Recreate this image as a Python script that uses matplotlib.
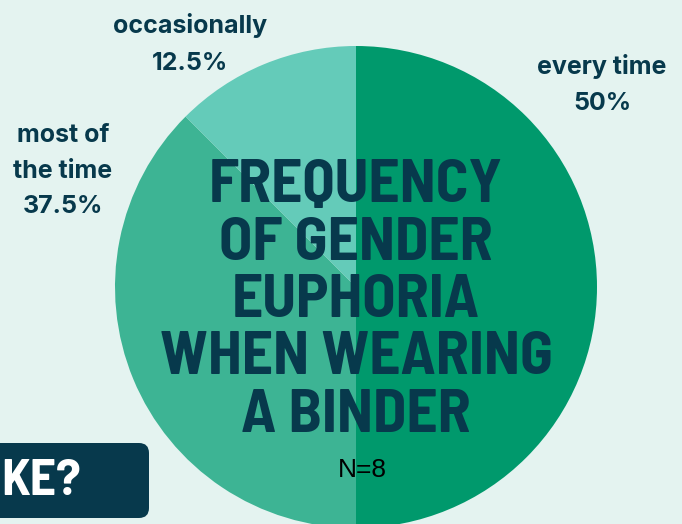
import matplotlib.pyplot as plt
from matplotlib.patches import FancyBboxPatch

# data
labels = ['every time', 'most of\nthe time', 'occasionally']
shares = [50, 37.5, 12.5]
slice_colors = ['#00996c', '#3db494', '#64cbb9']
title_lines = ['FREQUENCY', 'OF GENDER', 'EUPHORIA', 'WHEN WEARING', 'A BINDER']
n_text = 'N=8'

bg = '#e4f3f0'
navy = '#07394c'
W, H = 682, 524

fig = plt.figure(figsize=(W / 100, H / 100), dpi=100, facecolor=bg)
ax = fig.add_axes([0, 0, 1, 1])
ax.set_facecolor(bg)

# pie, clockwise from 12 o'clock
cx, cy, r = 356, H - 287, 241
ax.pie(shares, colors=slice_colors, startangle=90, counterclock=False,
       center=(cx, cy), radius=r, wedgeprops=dict(linewidth=0))

ax.set_xlim(0, W)
ax.set_ylim(0, H)
ax.set_aspect('equal')
ax.axis('off')

def py(y):
    # pixel row (from top) -> data y
    return H - y

label_font = dict(family=['Inter', 'DejaVu Sans'], fontweight='bold',
                  fontsize=18, color=navy)

# slice labels with percentages
label_pos = [(602, [74, 110]), (63, [142, 178, 213]), (190, [33, 70])]
for lab, val, (x, bases) in zip(labels, shares, label_pos):
    lines = lab.split('\n') + ['%g%%' % val]
    for line, b in zip(lines, bases):
        ax.text(x, py(b), line, ha='center', va='baseline', **label_font)

# centre title
cond = ['Barlow Semi Condensed', 'Roboto Condensed', 'DejaVu Sans']
title_font = dict(family=cond, fontweight='bold', fontsize=44, color=navy)
for i, line in enumerate(title_lines):
    ax.text(356, py(202 + i * 57.5), line, ha='center', va='baseline', **title_font)

ax.text(362, py(477), n_text, ha='center', va='baseline', fontsize=19,
        family=['Liberation Sans', 'DejaVu Sans'], color='black')

# cut-off dark box at bottom left
box = FancyBboxPatch((-60, py(518)), 209, 75, boxstyle='round,pad=0,rounding_size=10',
                     facecolor=navy, edgecolor='none')
ax.add_patch(box)
ax.text(1, py(495), 'KE?', ha='left', va='baseline', color='white',
        family=cond, fontweight='bold', fontsize=37)

fig.savefig('out.png', dpi=100, facecolor=bg)
